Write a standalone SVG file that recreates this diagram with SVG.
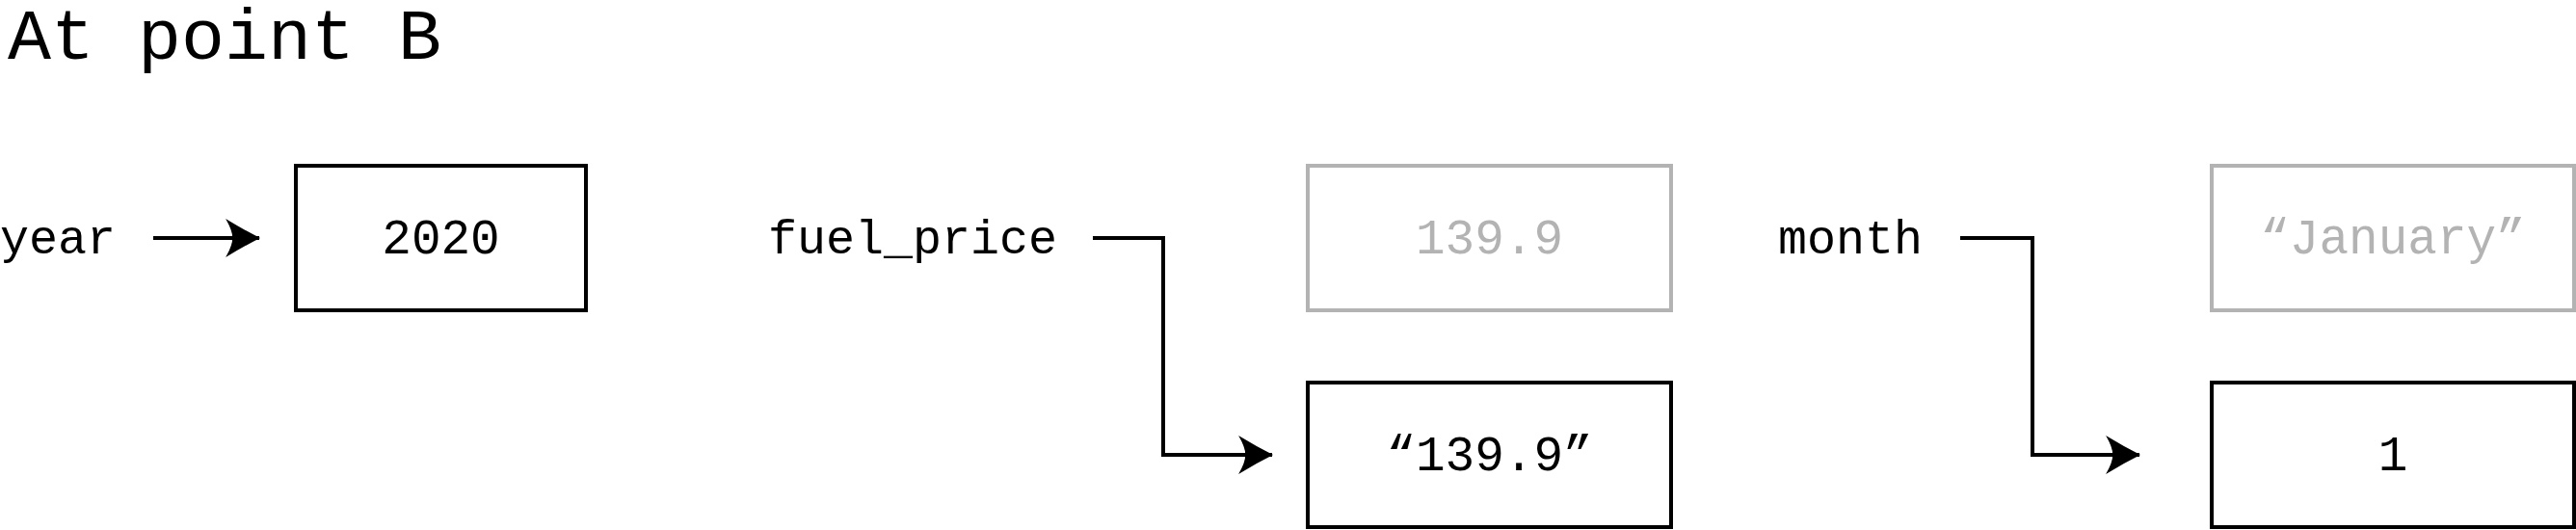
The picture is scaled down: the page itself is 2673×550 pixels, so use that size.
<svg xmlns="http://www.w3.org/2000/svg" width="2673" height="550" viewBox="0 0 2673 550">
<style>
text{font-family:"Liberation Mono","DejaVu Sans Mono",monospace;fill:#000}
.lbl{font-size:50px}
.val{font-size:51px;text-anchor:middle}
.title{font-size:75px}
.box{fill:#fff;stroke:#000;stroke-width:4}
.old .box{stroke:#b3b3b3}
.old text{fill:#b3b3b3}
.conn{fill:none;stroke:#000;stroke-width:4}
</style>
<defs>
<marker id="arr" markerUnits="userSpaceOnUse" markerWidth="36" markerHeight="40" viewBox="0 0 35 39" refX="34" refY="19.5" orient="auto">
<path d="M35,19.5 Q18,11 0,0 Q7,12 7,19.5 Q7,27 0,39 Q18,28 35,19.5 Z" fill="#000"/>
</marker>
</defs>
<rect width="2673" height="550" fill="#fff"/>
<text class="title" x="8" y="61">At point B</text>
<g id="year"><text class="lbl" x="0" y="263">year</text></g>
<g id="fuel_price"><text class="lbl" x="797" y="263">fuel_price</text></g>
<g id="month"><text class="lbl" x="1845" y="263">month</text></g>
<g id="v2020"><rect class="box" x="307" y="172" width="301" height="150"/><text class="val" x="457.5" y="263">2020</text></g>
<g id="v139_9" class="old"><rect class="box" x="1357" y="172" width="377" height="150"/><text class="val" x="1545.5" y="263">139.9</text></g>
<g id="s139_9"><rect class="box" x="1357" y="397" width="377" height="150"/><text class="val" x="1545.5" y="488">“139.9”</text></g>
<g id="sJanuary" class="old"><rect class="box" x="2295" y="172" width="376" height="150"/><text class="val" x="2483" y="263">“January”</text></g>
<g id="v1"><rect class="box" x="2295" y="397" width="376" height="150"/><text class="val" x="2483" y="488">1</text></g>
<g id="connectors">
<path class="conn" d="M159,247 H269" marker-end="url(#arr)"/>
<path class="conn" d="M1134,247 H1207 V472 H1320" marker-end="url(#arr)"/>
<path class="conn" d="M2034,247 H2109 V472 H2220" marker-end="url(#arr)"/>
</g>
</svg>
